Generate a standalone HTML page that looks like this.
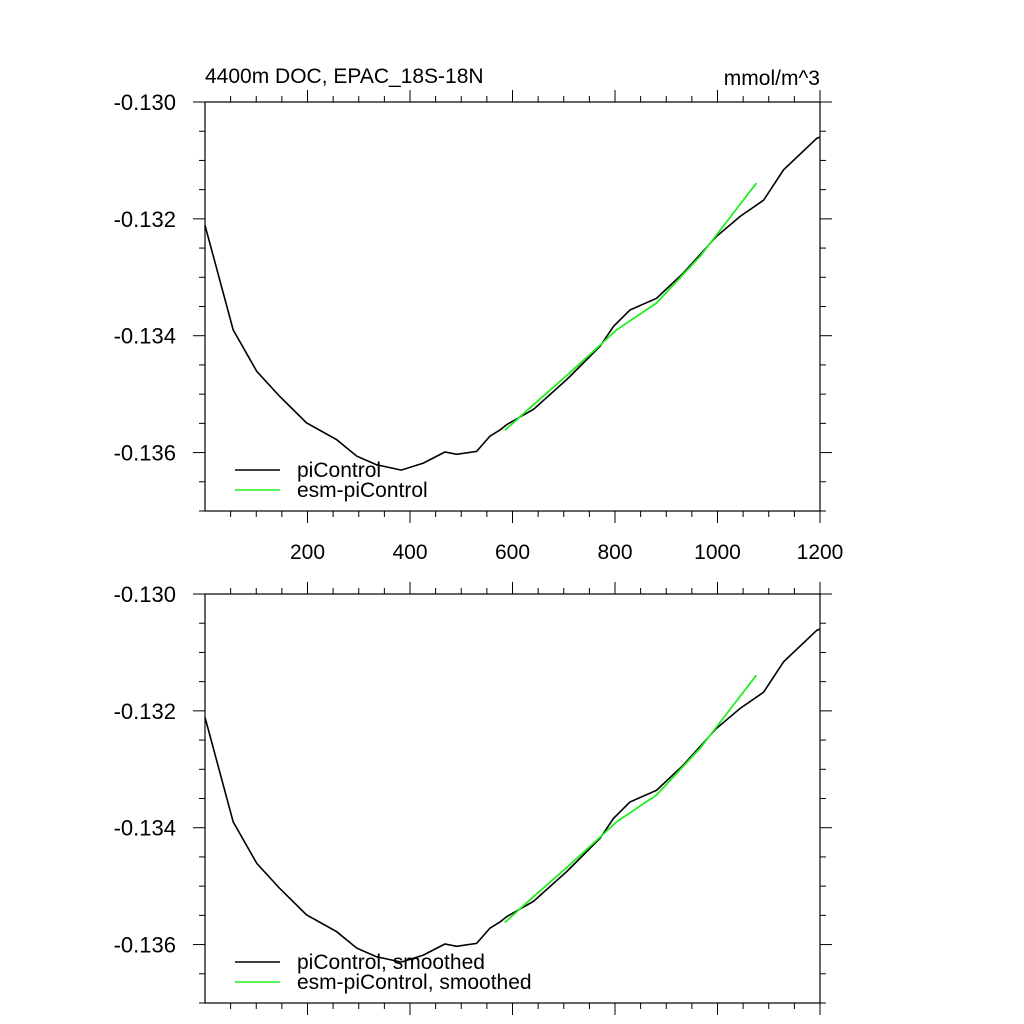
<!DOCTYPE html>
<html><head><meta charset="utf-8"><style>
html,body{margin:0;padding:0;background:#fff;}
svg{display:block;font-family:"Liberation Sans",sans-serif;}
</style></head><body>
<svg id="chart" width="1024" height="1024" viewBox="0 0 1024 1024" xmlns="http://www.w3.org/2000/svg"></svg>
<script>
const piYears = [0,55,101,146,198,257,296,335,383,426,468,491,530,556,576,589,641,706,771,797,829,881,933,998,1044,1090,1129,1194,1200];
const piValues = [-0.13211,-0.13390,-0.13461,-0.13504,-0.13549,-0.13578,-0.13606,-0.13621,-0.13630,-0.13618,-0.13599,-0.13603,-0.13598,-0.13572,-0.13561,-0.13552,-0.13526,-0.13475,-0.13418,-0.13384,-0.13356,-0.13336,-0.13293,-0.13230,-0.13196,-0.13168,-0.13116,-0.13062,-0.13060];
const esmYears = [585,641,706,760,803,881,966,1031,1076];
const esmValues = [-0.13562,-0.13518,-0.13468,-0.13425,-0.13390,-0.13344,-0.13264,-0.13190,-0.13139];
const xTicks = [200,400,600,800,1000,1200];
const yTicks = [-0.130,-0.132,-0.134,-0.136];
const yTickLabels = ["-0.130","-0.132","-0.134","-0.136"];

const NS="http://www.w3.org/2000/svg";
const svg=document.getElementById('chart');
function mk(tag,attrs,parent){const e=document.createElementNS(NS,tag);for(const k in attrs)e.setAttribute(k,attrs[k]);(parent||svg).appendChild(e);return e;}

const L=205,R=820,X0=0,X1=1200,Y0=-0.137,Y1=-0.130;
function panel(top,bottom,name,showX,legendNames,legY){
  const g=mk('g',{});
  
  
  const xs=v=>L+(v-X0)/(X1-X0)*(R-L);
  const ys=v=>bottom-(v-Y0)/(Y1-Y0)*(bottom-top);
  for(let x=50;x<=1200;x+=50){
    const maj=x%200===0, len=maj?12:6, px=xs(x);
    const t1=mk('line',{x1:px,x2:px,y1:bottom,y2:bottom+len,stroke:'#000','stroke-width':1},g);
    
    
    const t2=mk('line',{x1:px,x2:px,y1:top,y2:top-len,stroke:'#000','stroke-width':1},g);
    
    
  }
  for(let i=0;i<=14;i++){
    const v=Y0+i*0.0005, maj=(i%4===2), len=maj?12:6, py=ys(v);
    const t1=mk('line',{x1:L,x2:L-len,y1:py,y2:py,stroke:'#000','stroke-width':1},g);
    
    
    const t2=mk('line',{x1:R,x2:R+len,y1:py,y2:py,stroke:'#000','stroke-width':1},g);
    
    
  }
  yTicks.forEach((v,i)=>{
    const t=mk('text',{x:176,y:ys(v)+8,'text-anchor':'end','font-size':22},g);
    t.textContent=yTickLabels[i];
    
    
  });
  if(showX){xTicks.forEach(v=>{
    const t=mk('text',{x:xs(v),y:559,'text-anchor':'middle','font-size':21},g);
    t.textContent=String(v);
    
    
  });}
  const pts=(xa,ya)=>xa.map((x,i)=>xs(x).toFixed(1)+','+ys(ya[i]).toFixed(1)).join(' ');
  const p1=mk('polyline',{points:pts(piYears,piValues),fill:'none',stroke:'#000','stroke-width':1.6},g);
  
  
  const p2=mk('polyline',{points:pts(esmYears,esmValues),fill:'none',stroke:'#22ee22','stroke-width':1.8},g);
  
  
  const fr=mk('rect',{x:L,y:top,width:R-L,height:bottom-top,fill:'none',stroke:'#000','stroke-width':1.2},g);
  
  
  const cols=['#000','#22ee22'];
  legendNames.forEach((n,i)=>{
    const y=legY+i*20;
    const l=mk('line',{x1:235,x2:280,y1:y,y2:y,stroke:cols[i],'stroke-width':1.6},g);
    
    
    const t=mk('text',{x:297,y:y+7,'font-size':21},g);
    t.textContent=n;
    
    
  });
}
panel(102,511,'top-panel',true,['piControl','esm-piControl'],470);
panel(594,1003,'bottom-panel',false,['piControl, smoothed','esm-piControl, smoothed'],962);
const ti=mk('text',{x:205,y:83,'font-size':21});
ti.textContent='4400m DOC, EPAC_18S-18N';


const un=mk('text',{x:820,y:85,'font-size':21,'text-anchor':'end'});
un.textContent='mmol/m^3';


</script>
</body></html>
